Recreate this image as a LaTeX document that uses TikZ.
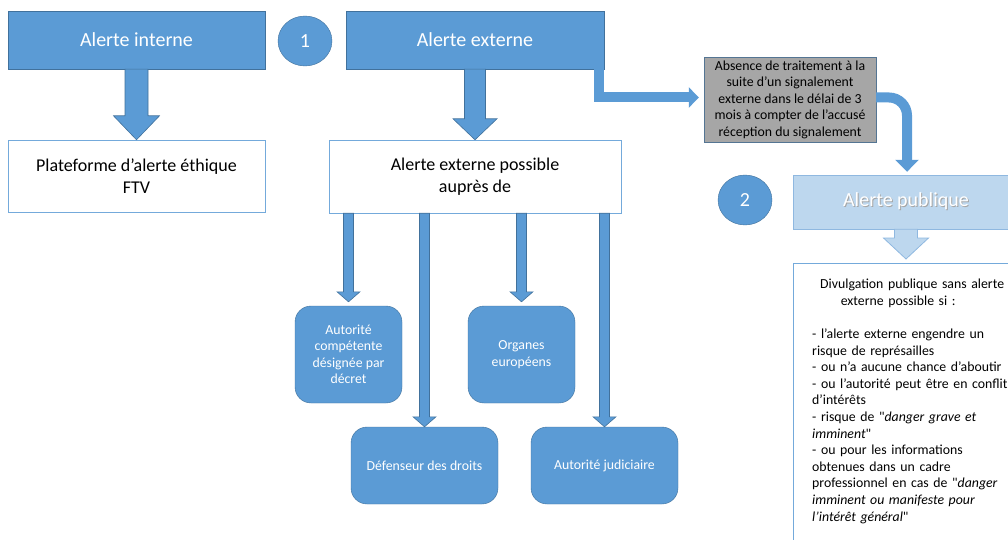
\documentclass[tikz,border=0pt]{standalone}
\usepackage{fontspec}
\setmainfont{Carlito}[Ligatures=TeXOff]
\usetikzlibrary{calc,shapes.geometric,arrows.meta}

\definecolor{bleu}{HTML}{5B9BD5}
\definecolor{bleufonce}{HTML}{41719C}
\definecolor{bleuclair}{HTML}{BDD7EE}
\definecolor{bleuclairbord}{HTML}{8FB8E0}
\definecolor{grisfond}{HTML}{A6A6A6}

\tikzset{
  titre/.style={rectangle,fill=bleu,draw=bleufonce,text=white,font=\fontsize{20}{24}\selectfont},
  cadre/.style={rectangle,fill=white,draw=bleu!85,text=black,align=center,font=\fontsize{18}{22}\selectfont},
  attente/.style={rectangle,fill=grisfond,draw=bleufonce!70!gray,text=black,align=center,font=\fontsize{13.8}{16.5}\selectfont},
  organe/.style={rectangle,rounded corners=16pt,fill=bleu,draw=bleufonce,text=white,align=center,font=\fontsize{13.8}{16.5}\selectfont},
  pastille/.style={ellipse,fill=bleu,draw=bleufonce,text=white,minimum width=54pt,minimum height=50pt,font=\fontsize{20}{24}\selectfont},
  bfleche/.style={fill=bleu,draw=bleufonce,line width=0.6pt},
  cfleche/.style={fill=bleuclair,draw=bleuclairbord,line width=0.8pt},
  tube/.style={draw=bleu,line width=10pt},
}

%block arrow pointing down: style, from, to, half shaft, half head, head length
\newcommand{\flechebloc}[6]{%
  \path[#1] let \p1=(#2), \p2=(#3) in
    (\x1-#4,\y1) -- (\x1+#4,\y1) -- (\x1+#4,\y2+#6) -- (\x1+#5,\y2+#6)
    -- (\x1,\y2) -- (\x1-#5,\y2+#6) -- (\x1-#4,\y2+#6) -- cycle;}
%white text with a grey shadow
\newcommand{\ombre}[1]{{\color{gray!70}\rlap{\hspace{1pt}\raisebox{-1pt}{#1}}}#1}

\begin{document}
\begin{tikzpicture}[x=1pt,y=-1pt]
\useasboundingbox (0,0) rectangle (1008,540);

%alerte interne
\node[titre,minimum width=257pt,minimum height=58pt] (interne) at (136.5,40) {Alerte interne};
\node[cadre,minimum width=257pt,minimum height=72pt] (plateforme) at (136.5,176) {Plateforme d’alerte éthique\\FTV};
\node[pastille] (un) at (305,41) {1};

%alerte externe
\node[titre,minimum width=258pt,minimum height=58pt] (externe) at (475,40) {Alerte externe};
\node[cadre,minimum width=292pt,minimum height=73pt] (possible) at (475,176.5) {Alerte externe possible\\auprès de};
\node[attente,minimum width=172pt,minimum height=83pt] (absence) at (790,99.5) {Absence de traitement à la\\suite d’un signalement\\externe dans le délai de 3\\mois à compter de l’accusé\\réception du signalement};

%organes
\node[organe,minimum width=107pt,minimum height=97pt] (autorite) at (348.5,354.5) {Autorité\\compétente\\désignée par\\décret};
\node[organe,minimum width=107pt,minimum height=97pt] (organes) at (521.5,354.5) {Organes\\européens};
\node[organe,minimum width=147pt,minimum height=77pt] (defenseur) at (424.5,465.5) {Défenseur des droits};
\node[organe,minimum width=147pt,minimum height=77pt] (judiciaire) at (604.5,465.5) {Autorité judiciaire};

%alerte publique
\node[pastille] (deux) at (745,200) {2};
\node[rectangle,fill=bleuclair,draw=bleuclairbord,text=white,minimum width=226pt,minimum height=54pt,font=\fontsize{20}{24}\selectfont] (publique) at (906,202) {\ombre{Alerte publique}};
\node[rectangle,fill=white,draw=bleu!85,anchor=north west,text width=200pt,inner xsep=19pt,inner ysep=16pt,align=left,font=\fontsize{13.8}{16.6}\selectfont] (divulg) at (793,263) {%
{\noindent\centering Divulgation publique sans alerte\hspace*{16pt}\\externe possible si :\hspace*{28pt}\par}
\vspace{\baselineskip}
- l’alerte externe engendre un\\
risque de représailles\\
- ou n’a aucune chance d’aboutir\\
- ou l’autorité peut être en conflit\\
d’intérêts\\
- risque de "\textit{danger grave et}\\
\textit{imminent}"\\
- ou pour les informations\\
obtenues dans un cadre\\
professionnel en cas de "\textit{danger}\\
\textit{imminent ou manifeste pour}\\
\textit{l’intérêt général}"\par
\rule{0pt}{40pt}};

%block arrows
\flechebloc{bfleche}{interne.south}{plateforme.north}{11.5pt}{23pt}{24pt}
\flechebloc{bfleche}{externe.south}{possible.north}{10.5pt}{22pt}{21pt}
\flechebloc{bfleche}{autorite.north |- possible.south}{[yshift=4pt]autorite.north}{5pt}{11.5pt}{10pt}
\flechebloc{bfleche}{defenseur.north |- possible.south}{defenseur.north}{5pt}{11.5pt}{10pt}
\flechebloc{bfleche}{organes.north |- possible.south}{[yshift=4pt]organes.north}{5pt}{11.5pt}{10pt}
\flechebloc{bfleche}{judiciaire.north |- possible.south}{judiciaire.north}{5pt}{11.5pt}{10pt}
\flechebloc{cfleche}{publique.south}{[yshift=4pt]divulg.north}{11.5pt}{22.5pt}{21pt}

%bent arrows
\draw[tube,shorten >=5pt,-{Triangle[width=20pt,length=10pt]}] ([xshift=-5pt,yshift=0.5pt]externe.south east) |- ([yshift=2pt]absence.west);
\draw[tube,rounded corners=18pt,-{Triangle[width=23pt,length=12pt]}] ([yshift=2pt]absence.east) -| ([xshift=1pt,yshift=3pt]publique.north);

\end{tikzpicture}
\end{document}
